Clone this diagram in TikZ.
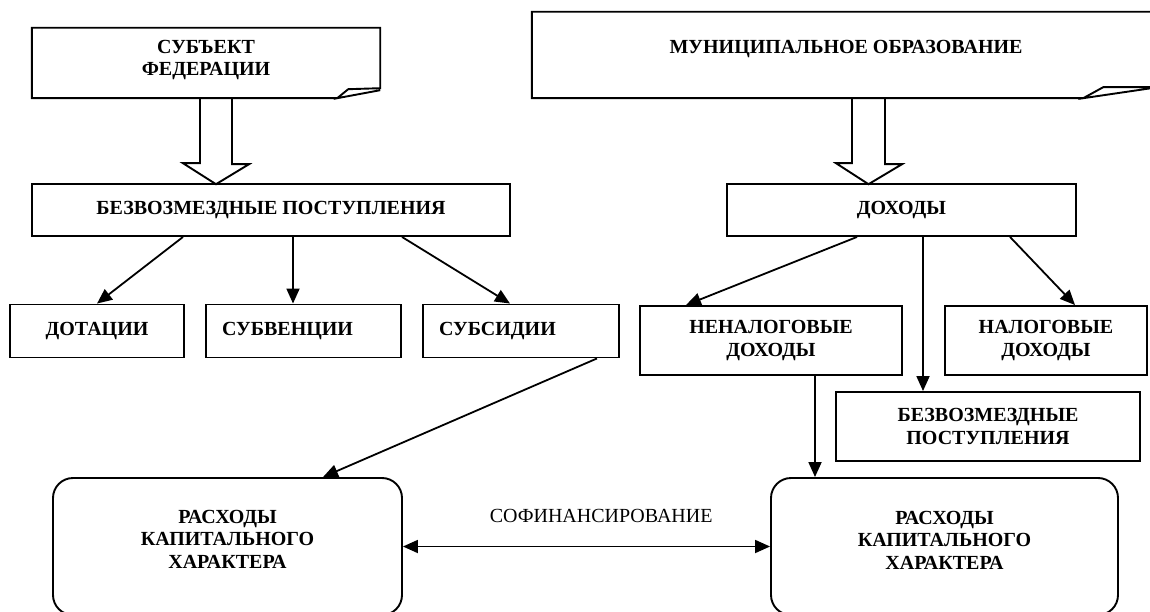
\documentclass[tikz,border=0pt]{standalone}
\usepackage{fontspec}
\setmainfont{Liberation Serif}
\usetikzlibrary{arrows.meta,calc}
\newcommand\dfont{\fontsize{20}{22.5}\selectfont}

\begin{document}
\begin{tikzpicture}[x=1pt, y=-1pt, >={Triangle[length=15pt,width=13pt]},
  frame/.style={line width=1.9pt, line join=miter},
  blk/.style={draw, line width=1.9pt, font=\dfont\bfseries, align=center, inner sep=0pt},
  lblk/.style={blk, align=left, inner xsep=16pt, text width=#1},
  rblk/.style={draw, line width=1.9pt, rounded corners=20pt, inner sep=0pt, minimum height=137pt},
  btext/.style={font=\dfont\bfseries, align=center, inner sep=0pt},
  arr/.style={->, line width=1.8pt},
  hollow/.style={line width=1.9pt, line join=miter}]
\useasboundingbox (0,0) rectangle (1150,612);
\clip (0,0) rectangle (1150,612);
% субъект федерации и муниципалитет
\node[minimum width=348pt, minimum height=70pt] (subj) at (206,63) {};
\node[btext] (subjtext) at (206,60) {СУБЪЕКТ\\ФЕДЕРАЦИИ};
\draw[frame] ($(subj.south east)+(-43,0)$) -- (subj.south west) -- (subj.north west) -- (subj.north east)
  -- ($(subj.south east)+(0,-10)$) -- ($(subj.south east)+(-32,-9)$) -- ($(subj.south east)+(-43,0)$)
  -- ($(subj.south east)+(0,-8)$);
\node[minimum width=619pt, minimum height=86pt] (muni) at (841.5,55) {};
\node[btext] (munitext) at (846,49) {МУНИЦИПАЛЬНОЕ ОБРАЗОВАНИЕ};
\draw[frame] ($(muni.south east)+(-68,0)$) -- (muni.south west) -- (muni.north west) -- (muni.north east)
  -- ($(muni.south east)+(0,-11)$) -- ($(muni.south east)+(-48,-11)$) -- ($(muni.south east)+(-68,0)$)
  -- ($(muni.south east)+(0,-10)$);
% второй уровень
\node[blk, minimum width=478pt, minimum height=52pt] (bezv1) at (271,210) {БЕЗВОЗМЕЗДНЫЕ ПОСТУПЛЕНИЯ};
\node[blk, minimum width=349pt, minimum height=52pt] (dohody) at (901.5,210) {ДОХОДЫ};
% полые стрелки
\draw[hollow] ($(subj.south)+(-6,0)$) -- ++(0,65) -- ++(-17,0) -- ($(subj.south)+(10,86)$)
  -- ++(33,-20) -- ++(-17,0) -- ++(0,-65);
\draw[hollow] ($(muni.south)+(10.5,0)$) -- ++(0,65) -- ++(-16,0) -- ($(muni.south)+(27,86)$)
  -- ++(33.5,-20) -- ++(-17,0) -- ++(0,-65);
% третий уровень
\node[blk, minimum width=174pt, minimum height=53pt] (dot) at (97,331) {ДОТАЦИИ};
\node[lblk=163pt, minimum height=53pt] (subv) at (303.5,331) {СУБВЕНЦИИ};
\node[lblk=164pt, minimum height=53pt] (subs) at (521,331) {СУБСИДИИ};
\node[blk, minimum width=262pt, minimum height=69pt] (nenal) at (771,340.5) {НЕНАЛОГОВЫЕ\\ДОХОДЫ};
\node[blk, minimum width=202pt, minimum height=69pt] (nal) at (1046,340.5) {НАЛОГОВЫЕ\\ДОХОДЫ};
\node[blk, minimum width=304pt, minimum height=69pt] (bezv2) at (988,426.5) {БЕЗВОЗМЕЗДНЫЕ\\ПОСТУПЛЕНИЯ};
% расходы
\node[rblk, minimum width=349pt] (rasl) at (227.5,546.5) {};
\node[btext] (rasltext) at (227.5,539) {РАСХОДЫ\\КАПИТАЛЬНОГО\\ХАРАКТЕРА};
\node[rblk, minimum width=347pt] (rasr) at (944.5,546.5) {};
\node[btext] (rasrtext) at (944.5,540) {РАСХОДЫ\\КАПИТАЛЬНОГО\\ХАРАКТЕРА};
% связи
\draw[arr] ([xshift=-88pt]bezv1.south) -- (dot.north);
\draw[arr] ([xshift=22pt]bezv1.south) -- ([xshift=22pt]bezv1.south |- subv.north);
\draw[arr] ([xshift=131pt]bezv1.south) -- ([xshift=-11pt]subs.north);
\draw[arr] ([xshift=76pt]subs.south) -- ([xshift=95.5pt]rasl.north);
\draw[arr] ([xshift=-44.5pt]dohody.south) -- ([xshift=-85pt]nenal.north);
\draw[arr] ([xshift=21.5pt]dohody.south) -- ([xshift=21.5pt]dohody.south |- bezv2.north);
\draw[arr] ([xshift=108.5pt]dohody.south) -- ([xshift=29pt]nal.north);
\draw[arr] ([xshift=44pt]nenal.south) -- ([xshift=44pt]nenal.south |- rasr.north);
\draw[<->, line width=1.8pt] (rasl.east) -- node[pos=0.54, above=23pt, inner sep=0pt, font=\dfont] (cofin) {СОФИНАНСИРОВАНИЕ} (rasr.west);
\end{tikzpicture}
\end{document}
